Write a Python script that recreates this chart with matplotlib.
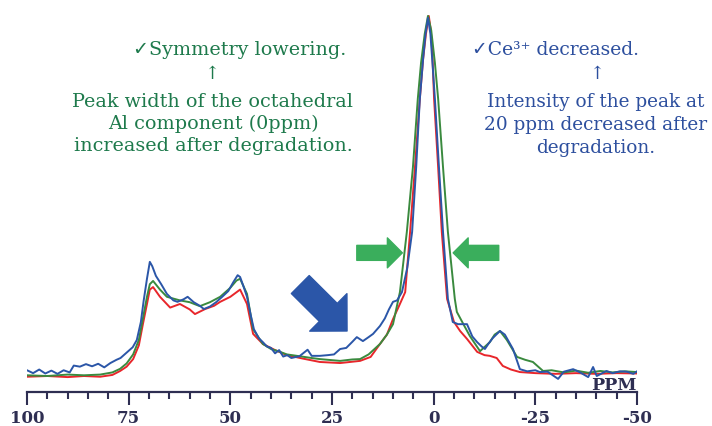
import numpy as np
import matplotlib.pyplot as plt

# chemical shift (ppm) and intensity (peak = 100) for the three spectra
blue_ppm = [100, 98.5, 97, 95.5, 94, 92.5, 91, 89.5, 88.5, 87, 85.5, 84, 82.5, 81, 79.5, 78, 77,
            75.5, 74, 73, 72, 71.3, 70.5, 69.8, 69.2, 68.3, 67, 65.6, 64, 63, 61.5, 60.5, 59, 57.5,
            56.5, 55, 53.5, 52, 50.5, 49.3, 48.2, 47.6, 46.8, 45.9, 45, 44.2, 43, 42, 41, 40, 39, 38,
            37, 36, 35, 33, 31, 30, 28, 26, 24.5, 23, 21.5, 20, 18.9, 17.4, 16, 14.9, 13.2, 12, 11,
            10, 9, 7.8, 6.5, 5.3, 4.3, 3.4, 2.6, 2.0, 1.4, 0.8, 0.3, -0.3, -1.3, -2.3, -3.5, -4.7,
            -6, -8.2, -9.5, -10.7, -11.8, -12.6, -13.5, -14.5, -16.3, -17.5, -19.5, -21.2, -23, -25,
            -26.1, -28, -30.6, -32, -34.3, -36, -38, -39.2, -40.1, -42.5, -44, -45.8, -47.5, -49.1, -50]
blue_int = [1.6, 0.8, 1.8, 0.7, 1.5, 0.6, 1.6, 1.0, 2.9, 2.6, 3.3, 2.7, 3.4, 2.4, 3.6, 4.5, 5.0,
            6.5, 8.0, 10, 15, 21, 27, 31.7, 30.5, 27.8, 25.5, 22.8, 21, 20.6, 21.3, 22, 20.5, 19.5,
            18.6, 19.3, 20.5, 22, 23.6, 26, 28, 27.5, 25, 22, 17, 13, 10.5, 9.4, 8.2, 7.8, 6.3, 7.2,
            5.4, 5.8, 5.0, 5.5, 7.3, 5.6, 5.6, 5.8, 6.0, 7.5, 7.8, 9.5, 10.8, 9.7, 10.8, 11.7, 13.9, 16, 18.5,
            20.6, 21, 23.3, 30, 40, 58, 77, 88, 95, 99.5, 95, 87, 77, 58, 40, 21.4, 15,
            14.4, 14.4, 11, 9.4, 8.2, 7.5, 9.0, 10.5, 12.5, 11.5, 7.5, 1.9, 1.3, 1.6,
            1.1, 1.2, -0.8, 1.2, 1.9, 1.0, -0.3, 2.5, 0.0, 1.4, 0.8, 1.3, 1.2, 0.6, 1.3]

green_ppm = [100, 95, 90, 86, 82, 79, 77.1, 75.5, 73.9, 72.5, 71.5, 70.5, 69.8, 69, 67.3, 65.6,
             62.4, 60, 57.5, 55, 52.5, 50, 48.5, 47.6, 45.9, 44.4, 42, 40, 38, 36.1, 33, 30, 28, 23,
             20, 18.1, 16, 13.2, 11.5, 10, 8.3, 6.6, 5.1, 3.9, 3.1, 2.2, 1.4, 0.6, -0.3, -1.1, -2.3,
             -3.5, -5.2, -5.7, -7.5, -8.9, -11.4, -13.8, -15, -16.3, -18, -20.5, -22.5, -24.4, -26.9,
             -29, -32, -35, -38, -41, -44, -47, -50]
green_int = [0.2, 0.0, 0.4, 0.2, 0.4, 1.0, 2.0, 3.5, 6.0, 10, 16, 22, 25.5, 26.4, 24, 22,
             21, 20.5, 19.4, 20.5, 22, 24.5, 26.5, 27, 22.8, 13, 8.9, 7.5, 6.8, 6.0, 5.5, 5.0, 4.7, 4.2,
             4.6, 4.7, 6.0, 8.9, 11.5, 14.4, 23.3, 40, 58, 77, 87, 95, 100, 96, 87, 77, 58,
             40, 21.4, 17.8, 14, 11.1, 6.9, 9.4, 11.5, 12.5, 10, 5.3, 4.5, 3.9, 1.4,
             1.6, 1.0, 1.5, 0.9, 1.4, 1.0, 1.3, 1.1]

red_ppm = [100, 95, 90, 86, 82, 79, 77.1, 75.5, 73.9, 72.5, 71.5, 70.5, 69.8, 69, 67.3, 64.8,
           62.4, 60, 58.7, 56.2, 54, 52.5, 50, 47.6, 45.9, 44.4, 42, 39, 36.1, 32, 28, 23, 18.1,
           15.5, 13.2, 11.5, 10, 8.5, 7, 5.8, 4.6, 3.4, 2.6, 1.9, 1.2, 0.7, 0.3, -0.1, -1.1, -2.0,
           -3.3, -5, -6.5, -8.2, -10.7, -12.5, -13.8, -15.5, -17, -19, -21.2, -25, -30, -35, -40,
           -45, -50]
red_int = [-0.2, 0.0, -0.3, 0.0, -0.2, 0.3, 1.4, 2.6, 4.7, 8.5, 14.4, 20, 24, 24.7, 22, 19,
           20, 18.5, 17.2, 18.6, 19.5, 20.6, 22, 24, 20, 11.7, 8.9, 7.2, 5.8, 4.8, 3.9, 3.6, 4.2,
           5.3, 8.9, 11.5, 15.8, 19.5, 23.3, 40, 58, 77, 88, 95, 100, 96, 89, 77, 58, 40,
           21.4, 15, 12.5, 10.3, 6.7, 5.8, 5.6, 5.0, 2.8, 1.8, 1.1, 0.8, 0.6, 0.8, 0.6,
           0.8, 0.7]

tick_values = [100, 75, 50, 25, 0, -25, -50]

GREEN_TXT = '#1e7a4c'
BLUE_TXT = '#2d4f9e'
NAVY = '#2e2e52'

plt.rcParams['font.family'] = ['DejaVu Serif', 'DejaVu Sans']

fig = plt.figure(figsize=(7.12, 4.27), dpi=100)
ax = fig.add_axes([27 / 712, 34 / 427, 610 / 712, 393 / 427])

ax.plot(red_ppm, red_int, color='#e8262b', lw=1.4)
ax.plot(green_ppm, green_int, color='#3a8a3e', lw=1.4)
ax.plot(blue_ppm, blue_int, color='#2b56a8', lw=1.4)

ax.set_xlim(100, -50)
ax.set_ylim(-4.44, 104.7)
for s in ['top', 'left', 'right']:
    ax.spines[s].set_visible(False)
ax.spines['bottom'].set_color(NAVY)
ax.spines['bottom'].set_linewidth(1.6)
ax.set_yticks([])
ax.set_xticks(tick_values)
ax.set_xticklabels([str(v) for v in tick_values], fontweight='bold', fontsize=12, color=NAVY)
ax.set_xticks(np.arange(-50, 101, 5), minor=True)
ax.tick_params(axis='x', which='major', length=9.5, width=1.5, color=NAVY, pad=3)
ax.tick_params(axis='x', which='minor', length=5, width=1.5, color=NAVY)
ax.text(-50, -3.6, 'PPM', ha='right', va='baseline', fontweight='bold', fontsize=12.5, color=NAVY)

# arrows
ax.annotate('', xy=(21.3, 12.5), xytext=(32.8, 25.4),
            arrowprops=dict(arrowstyle='simple,head_width=1.0,head_length=0.5,tail_width=0.48',
                            mutation_scale=38, color='#2b56a8', shrinkA=0, shrinkB=0))
ax.annotate('', xy=(7.7, 34.2), xytext=(18.9, 34.2),
            arrowprops=dict(arrowstyle='simple,head_width=0.98,head_length=0.49,tail_width=0.49',
                            mutation_scale=22, color='#3aae5c', shrinkA=0, shrinkB=0))
ax.annotate('', xy=(-4.8, 34.2), xytext=(-16.0, 34.2),
            arrowprops=dict(arrowstyle='simple,head_width=0.98,head_length=0.49,tail_width=0.49',
                            mutation_scale=22, color='#3aae5c', shrinkA=0, shrinkB=0))

# annotations
fig.text(240 / 712, 1 - 50 / 427, '✓Symmetry lowering.', ha='center', va='center',
         fontsize=13.8, color=GREEN_TXT)
fig.text(212 / 712, 1 - 74 / 427, '↑', ha='center', va='center', fontsize=13, color=GREEN_TXT)
fig.text(213 / 712, 1 - 124 / 427,
         'Peak width of the octahedral\nAl component (0ppm)\nincreased after degradation.',
         ha='center', va='center', fontsize=13.8, color=GREEN_TXT, linespacing=1.3)

fig.text(555 / 712, 1 - 50 / 427, '✓Ce³⁺ decreased.', ha='center', va='center',
         fontsize=13.5, color=BLUE_TXT)
fig.text(597 / 712, 1 - 74 / 427, '↑', ha='center', va='center', fontsize=13, color=BLUE_TXT)
fig.text(596 / 712, 1 - 125 / 427,
         'Intensity of the peak at\n20 ppm decreased after\ndegradation.',
         ha='center', va='center', fontsize=13.3, color=BLUE_TXT, linespacing=1.36)

fig.savefig('out.png', dpi=100)
